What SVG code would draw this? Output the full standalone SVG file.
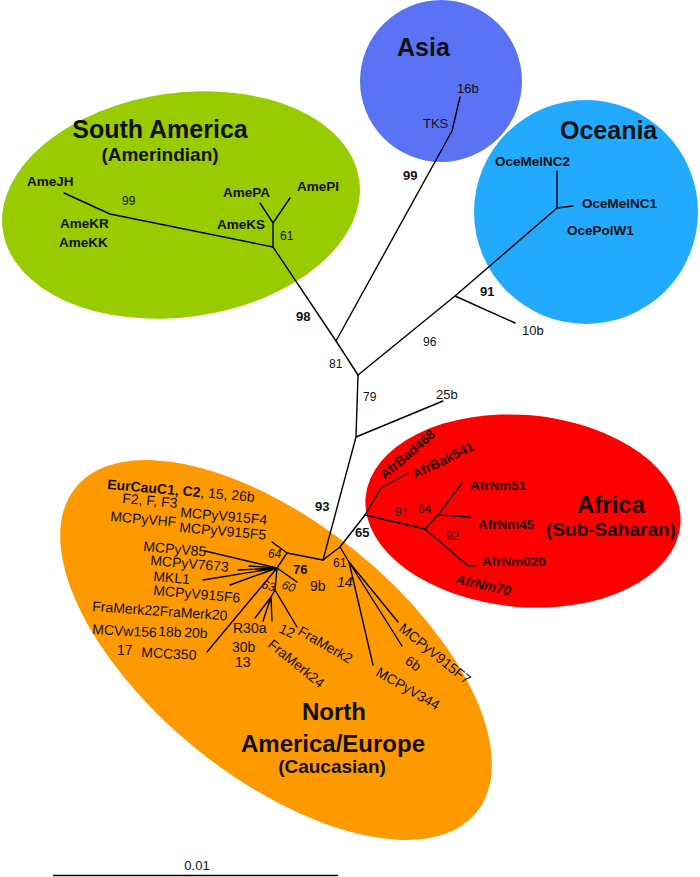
<svg xmlns="http://www.w3.org/2000/svg" width="700" height="877" viewBox="0 0 700 877">
<style>
text{font-family:"Liberation Sans",Arial,sans-serif;fill:#111}
.t{font-weight:bold;font-size:25px}
.t2{font-weight:bold;font-size:24px}
.s{font-weight:bold;font-size:19px}
.lb{font-weight:bold;font-size:13.5px}
.lr{font-size:14px}
.lr13{font-size:13px}
.n{font-size:12px}
.nb{font-weight:bold;font-size:13px}
.af{fill:#1e0000}
.e{stroke:#000;stroke-width:1.4;fill:none;stroke-linecap:round;stroke-linejoin:round}
</style>
<rect width="700" height="877" fill="#fff"/>
<g id="region-south-america">
<ellipse cx="181" cy="205" rx="180" ry="112" transform="rotate(-8 181 205)" fill="#99cc00"/>
<text class="t" x="160" y="138" text-anchor="middle">South America</text>
<text class="s" x="160" y="161" text-anchor="middle">(Amerindian)</text>
</g>
<g id="region-asia">
<circle cx="441" cy="81" r="81" fill="#5a73f5"/>
<text class="t" x="397" y="56">Asia</text>
</g>
<g id="region-oceania">
<circle cx="586" cy="212" r="112" fill="#22aaff"/>
<text class="t" x="560" y="139">Oceania</text>
</g>
<g id="region-africa">
<ellipse cx="523" cy="511" rx="158" ry="96" transform="rotate(5 523 511)" fill="#ff0000"/>
<text class="t2 af" x="611" y="513" text-anchor="middle">Africa</text>
<text class="s af" x="611" y="536" text-anchor="middle">(Sub-Saharan)</text>
</g>
<g id="region-north-america-europe">
<ellipse cx="276" cy="650" rx="258" ry="127" transform="rotate(39 276 650)" fill="#ff9900"/>
<text class="t2" x="334" y="720" text-anchor="middle">North</text>
<text class="t2" x="333" y="752" text-anchor="middle">America/Europe</text>
<text class="s" x="332" y="773" text-anchor="middle">(Caucasian)</text>
</g>
<g id="connectors" class="e">
<path d="M64,193 L110,214 L273,247 L336,341 L358,375"/>
<path d="M273,247 L273,223 M260,203 L273,223 L290,198"/>
<path d="M336,341 L452,131 L460,97"/>
<path d="M358,375 L455,296 L557,208 M455,296 L515,323 M557,171 L557,208 L573,206"/>
<path d="M358,375 L356,437 L323,560 M356,437 L443,401"/>
<path d="M323,560 L340,547 L365,515 L381,488 L408,473"/>
<path d="M365,515 L425,529 L438,515 L462,483 M438,515 L470,517 M425,529 L468,566 L475,566"/>
<path d="M340,547 L349,562 L373,665 M349,562 L402,646 M349,562 L398,622"/>
<path d="M323,560 L287,553 L272,542 M287,553 L277,568 L275,590 M277,568 L205,551 M277,568 L238,570 M277,568 L249,566 M277,568 L203,580 M277,568 L230,585 M277,568 L207,652 M277,568 L297,582 M275,590 L271,597 L255,618 M271,597 L263,621 M271,597 L272,621 M275,590 L297,627"/>
</g>
<g id="leaves-south-america">
<text class="lb" x="27" y="186">AmeJH</text>
<text class="lb" x="60" y="228">AmeKR</text>
<text class="lb" x="59" y="247">AmeKK</text>
<text class="lb" x="223" y="197">AmePA</text>
<text class="lb" x="297" y="191">AmePI</text>
<text class="lb" x="217" y="229">AmeKS</text>
</g>
<g id="leaves-asia">
<text class="lr13" x="457" y="93" fill="#101040">16b</text>
<text class="lr13" x="423" y="128">TKS</text>
</g>
<g id="leaves-oceania">
<text class="lb" x="495" y="166">OceMelNC2</text>
<text class="lb" x="582" y="208">OceMelNC1</text>
<text class="lb" x="567" y="235">OcePolW1</text>
<text class="lr13" x="522" y="335">10b</text>
<text class="lr13" x="436" y="399">25b</text>
</g>
<g id="leaves-africa">
<text class="lb af" x="385" y="480" transform="rotate(-41 385 480)">AfrBad468</text>
<text class="lb af" x="415" y="479" transform="rotate(-26 415 479)">AfrBak541</text>
<text class="lb af" x="470" y="490">AfrNm51</text>
<text class="lb af" x="478" y="529">AfrNm45</text>
<text class="lb af" x="482" y="566">AfrNm020</text>
<text class="lb af" x="455" y="583" font-style="italic" transform="rotate(13 455 583)">AfrNm70</text>
</g>
<g id="leaves-north-america-europe">
<text class="lr" x="107" y="489" transform="rotate(5 107 489)"><tspan font-weight="bold">EurCauC1, C2</tspan>, 15, 26b</text>
<text class="lr" x="122" y="503" transform="rotate(5 122 503)">F2, F, F3</text>
<text class="lr" x="180" y="517" transform="rotate(5 180 517)">MCPyV915F4</text>
<text class="lr" x="110" y="521" transform="rotate(5 110 521)">MCPyVHF</text>
<text class="lr" x="179" y="532" transform="rotate(5 179 532)">MCPyV915F5</text>
<text class="lr" x="143" y="551" transform="rotate(5 143 551)">MCPyV85</text>
<text class="lr" x="150" y="565" transform="rotate(5 150 565)">MCPyV7673</text>
<text class="lr" x="153" y="581" transform="rotate(5 153 581)">MKL1</text>
<text class="lr" x="153" y="595" transform="rotate(5 153 595)">MCPyV915F6</text>
<text class="lr" x="92" y="611" transform="rotate(4 92 611)">FraMerk22FraMerk20</text>
<text class="lr" x="92" y="634" transform="rotate(3 92 634)">MCVw156</text>
<text class="lr" x="158" y="636" transform="rotate(3 158 636)">18b</text>
<text class="lr" x="184" y="637" transform="rotate(3 184 637)">20b</text>
<text class="lr" x="117" y="655">17</text>
<text class="lr" x="141" y="657" transform="rotate(3 141 657)">MCC350</text>
<text class="lr" x="233" y="633">R30a</text>
<text class="lr" x="232" y="652">30b</text>
<text class="lr" x="235" y="667">13</text>
<text class="lr" x="278" y="632" transform="rotate(25 278 632)">12</text>
<text class="lr" x="297" y="634" transform="rotate(30 297 634)">FraMerk2</text>
<text class="lr" x="267" y="646" transform="rotate(39 267 646)">FraMerk24</text>
<text class="lr" x="375" y="675" transform="rotate(30 375 675)">MCPyV344</text>
<text class="lr" x="404" y="663" transform="rotate(35 404 663)">6b</text>
<text class="lr" x="398" y="630" transform="rotate(39 398 630)">MCPyV915F7</text>
<text class="lr" x="310" y="591">9b</text>
<text class="lr" x="337" y="587" font-style="italic">14</text>
</g>
<g id="bootstrap-values">
<text class="n" x="122" y="205">99</text>
<text class="n" x="280" y="240">61</text>
<text class="nb" x="403" y="180">99</text>
<text class="nb" x="480" y="296">91</text>
<text class="n" x="423" y="346">96</text>
<text class="nb" x="296" y="321">98</text>
<text class="n" x="329" y="368">81</text>
<text class="n" x="363" y="401">79</text>
<text class="nb" x="315" y="511">93</text>
<text class="nb" x="355" y="537">65</text>
<text class="n af" x="395" y="516">91</text>
<text class="n af" x="418" y="513">64</text>
<text class="n af" x="446" y="540">92</text>
<text class="n" x="268" y="558" font-style="italic">64</text>
<text class="nb" x="293" y="574">76</text>
<text class="n" x="333" y="567">61</text>
<text class="n" x="261" y="588" font-style="italic" transform="rotate(15 261 588)">63</text>
<text class="n" x="281" y="588" font-style="italic" transform="rotate(20 281 588)">60</text>
</g>
<g id="scale-bar">
<line x1="53" y1="875.5" x2="338" y2="875.5" stroke="#000" stroke-width="1.5"/>
<text class="lr13" x="197" y="870" text-anchor="middle">0.01</text>
</g>
</svg>
